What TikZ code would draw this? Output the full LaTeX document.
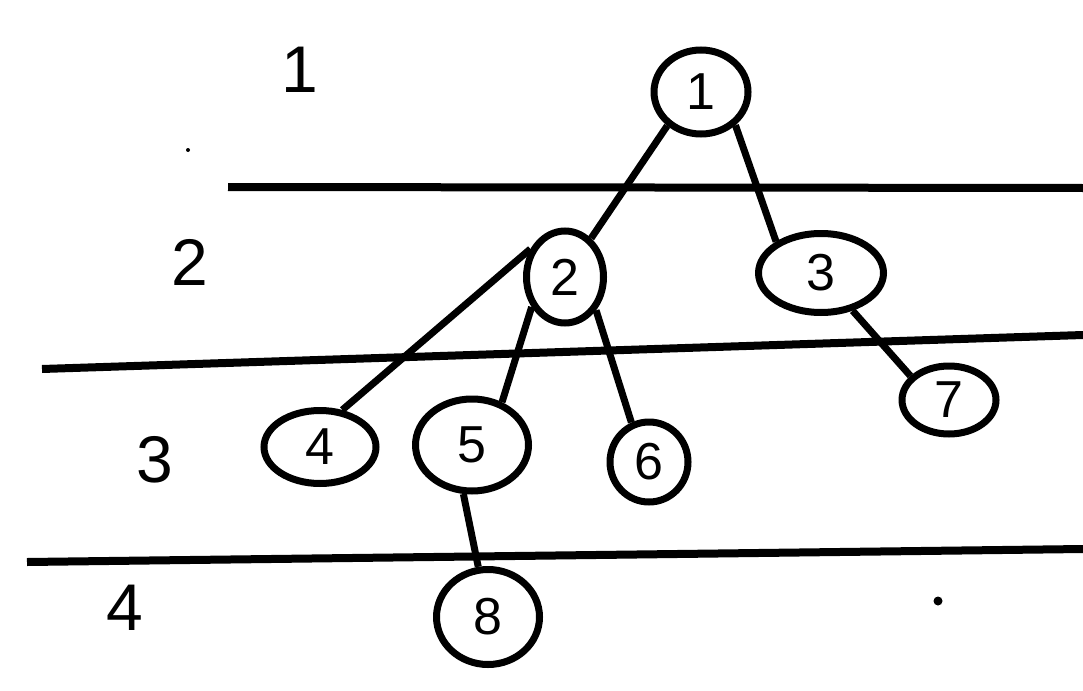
\documentclass[tikz,border=0pt]{standalone}
\usepackage{fontspec}
\setmainfont{Liberation Sans}
\usetikzlibrary{shapes.geometric}
\tikzset{
  tn/.style={ellipse, draw, line width=7pt, inner sep=0pt, font=\fontsize{52}{52}\selectfont},
  edge/.style={line width=7pt},
  level/.style={line width=8pt},
  lvl/.style={font=\fontsize{66}{66}\selectfont, inner sep=0pt},
}
\begin{document}
\begin{tikzpicture}[x=1pt,y=-1pt]
\useasboundingbox (0,0) rectangle (1083,690);
% level separators
\draw[level] (228,187) -- (1083,188);
\draw[level] (42,369) -- (1083,335);
\draw[level] (27,562) -- (1083,549);
% level labels
\node[lvl] (l1) at (300,70) {1};
\node[lvl] (l2) at (190,262) {2};
\node[lvl] (l3) at (155,460) {3};
\node[lvl] (l4) at (125,608) {4};
% dots
\fill (188,150) circle (2);
\fill (938,601) circle (4.5);
% tree nodes
\node[tn, minimum width=94pt, minimum height=84pt] (n1) at (701,92) {1};
\node[tn, minimum width=77pt, minimum height=92pt] (n2) at (565,277) {2};
\node[tn, minimum width=125pt, minimum height=79pt] (n3) at (821,273) {3};
\node[tn, minimum width=112pt, minimum height=73pt] (n4) at (320,447) {4};
\node[tn, minimum width=113pt, minimum height=92pt] (n5) at (472,445) {5};
\node[tn, minimum width=78pt, minimum height=80pt] (n6) at (649,462) {6};
\node[tn, minimum width=94pt, minimum height=68pt] (n7) at (949,400) {7};
\node[tn, minimum width=103pt, minimum height=95pt] (n8) at (488,617) {8};
% edges
\draw[edge] (n1.225) -- (n2.56);
\draw[edge] (n1.316) -- (n3.145);
\draw[edge] (n2.141) -- (n4.59);
\draw[edge] (n2.222) -- (n5.55);
\draw[edge] (n2.313) -- (n6.114);
\draw[edge] (n3.310) -- (n7.148);
\draw[edge] (n5.260) -- (n8.101);
\end{tikzpicture}
\end{document}
